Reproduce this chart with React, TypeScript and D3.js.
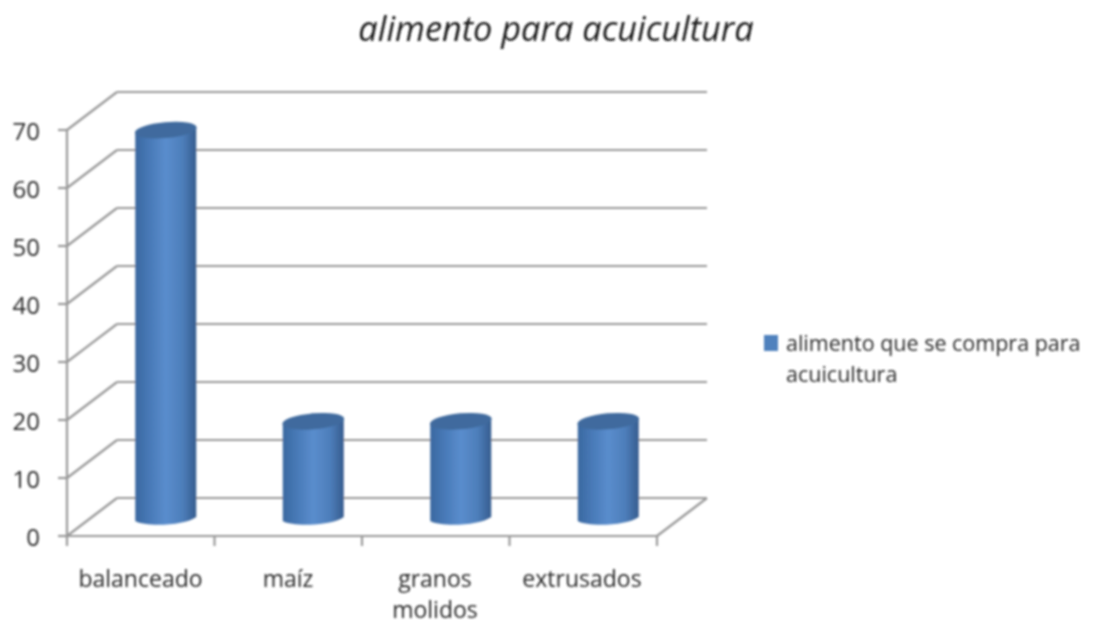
import React from "react";
import * as d3 from "d3";

const categories = ["balanceado", "maíz", "granos molidos", "extrusados"];
const categoryLines = [["balanceado"], ["maíz"], ["granos", "molidos"], ["extrusados"]];
const labelCentres = [140.5, 288, 435, 582];
const values = [66.7, 16.5, 16.5, 16.5];
const yTicks = [0, 10, 20, 30, 40, 50, 60, 70];
const titleText = "alimento para acuicultura";
const legendLines = ["alimento que se compra para", "acuicultura"];

const FONT = "'Open Sans', sans-serif";
const x = d3.scaleBand<string>().domain(categories).range([67, 657]);
const y = d3.scaleLinear().domain([0, 70]).range([536, 130]);
const DX = 50;
const DY = -38;
const BAR_W = 61;

function App() {
  const barPath = (v: number, cat: string) => {
    const cx = x(cat)! + x.bandwidth() / 2 + DX / 2;
    const by = y(0) + DY / 2;
    const ty = y(v) + DY / 2;
    const l = cx - BAR_W / 2;
    const r = cx + BAR_W / 2;
    const p = d3.path();
    p.moveTo(l, ty + 3);
    p.lineTo(l, by + 4);
    p.bezierCurveTo(l + 10, by + 10, r - 12, by + 9, r, by);
    p.lineTo(r, ty - 3);
    p.closePath();
    return { d: p.toString(), cx, ty };
  };
  return (
    <svg width={1111} height={620} style={{ position: "absolute", left: 0, top: 0, background: "#fff" }}>
      <defs>
        <linearGradient id="cyl" x1="0" x2="1" y1="0" y2="0">
          <stop offset="0" stopColor="#3a68a0" />
          <stop offset="0.2" stopColor="#4677b4" />
          <stop offset="0.5" stopColor="#5a8dcd" />
          <stop offset="0.78" stopColor="#4d7eba" />
          <stop offset="1" stopColor="#365c8e" />
        </linearGradient>
        <filter id="soft" filterUnits="userSpaceOnUse" x="0" y="0" width="1111" height="620">
          <feGaussianBlur stdDeviation="0.8" />
        </filter>
      </defs>
      <g filter="url(#soft)">
        {yTicks.map((t) => (
          <g key={t} stroke="#999" strokeWidth={2.2} fill="none">
            <line x1={58} x2={67} y1={y(t)} y2={y(t)} />
            <line x1={67} x2={67 + DX} y1={y(t)} y2={y(t) + DY} />
            <line x1={67 + DX} x2={657 + DX} y1={y(t) + DY} y2={y(t) + DY} />
          </g>
        ))}
        <g stroke="#999" strokeWidth={2.2} fill="none">
          <line x1={67} x2={67} y1={y(70)} y2={y(0) + 10} />
          <line x1={67} x2={657} y1={y(0)} y2={y(0)} />
          <line x1={657} x2={657 + DX} y1={y(0)} y2={y(0) + DY} />
          {categories.map((c) => (
            <line key={c} x1={x(c)! + x.bandwidth()} x2={x(c)! + x.bandwidth()} y1={y(0)} y2={y(0) + 10} />
          ))}
        </g>
        {categories.map((c, i) => {
          const b = barPath(values[i], c);
          return (
            <g key={c}>
              <path d={b.d} fill="url(#cyl)" />
              <ellipse cx={b.cx} cy={b.ty} rx={BAR_W / 2 + 0.5} ry={8} transform={`rotate(-5 ${b.cx} ${b.ty})`} fill="#3f6a9e" />
            </g>
          );
        })}
        <rect x={764} y={335} width={14} height={16} fill="#4f81bd" />
      </g>
      <g fontFamily={FONT} fill="#2b2b2b" filter="url(#soft)">
        <text x={556} y={41} textAnchor="middle" fontSize={34.3} fontStyle="italic" fill="#1a1a1a">{titleText}</text>
        {yTicks.map((t) => (
          <text key={t} x={40} y={y(t) + 10} textAnchor="end" fontSize={24}>{t}</text>
        ))}
        {categoryLines.map((lines, i) =>
          lines.map((line, j) => (
            <text key={line} x={labelCentres[i]} y={587 + j * 31} textAnchor="middle" fontSize={23}>{line}</text>
          ))
        )}
        {legendLines.map((line, j) => (
          <text key={line} x={786} y={351 + j * 31} fontSize={21.5}>{line}</text>
        ))}
      </g>
    </svg>
  );
}

export default App;
